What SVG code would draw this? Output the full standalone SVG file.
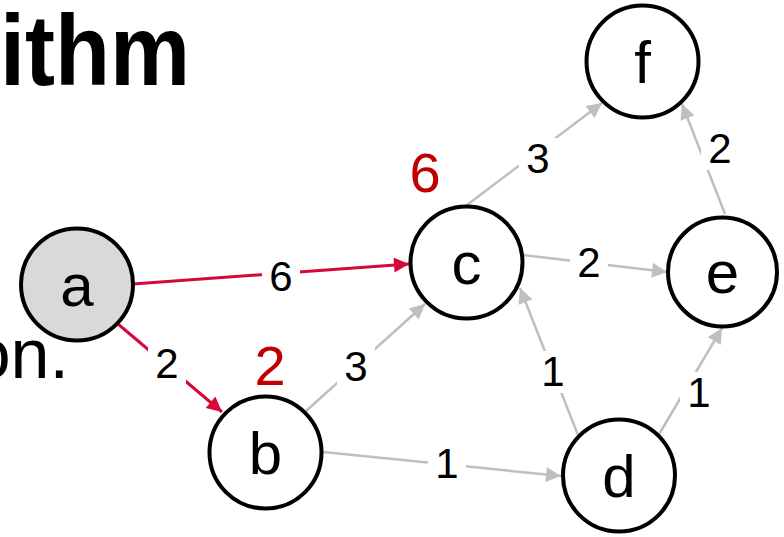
<svg xmlns="http://www.w3.org/2000/svg" width="784" height="537" viewBox="0 0 784 537">
<defs>
<marker id="ag" viewBox="0 0 10 10" refX="10" refY="5" markerWidth="7" markerHeight="6" markerUnits="strokeWidth" orient="auto">
<path d="M0,0 L10,5 L0,10 z" fill="#bfbfbf"/>
</marker>
<marker id="ar" viewBox="0 0 10 10" refX="10" refY="5" markerWidth="6" markerHeight="5" markerUnits="strokeWidth" orient="auto">
<path d="M0,0 L10,5 L0,10 z" fill="#d6083b"/>
</marker>
<style>
.node circle{fill:#fff;stroke:#000;stroke-width:4}
.node text{font-family:"Liberation Sans",Arial,sans-serif;font-size:60px;text-anchor:middle;fill:#000}
.g{stroke:#bfbfbf;stroke-width:2.5;fill:none;marker-end:url(#ag)}
.r{stroke:#d6083b;stroke-width:3;fill:none;marker-end:url(#ar)}
.lbl{font-family:"Liberation Sans",Arial,sans-serif;font-size:42px;text-anchor:middle;fill:#000}
.bg{fill:#fff}
.dist{font-family:"Liberation Sans",Arial,sans-serif;font-size:56px;text-anchor:middle;fill:#c00000}
</style>
</defs>
<rect width="784" height="537" fill="#fff"/>
<text x="0" y="85" font-family="Liberation Sans,Arial,sans-serif" font-weight="bold" font-size="100" textLength="190" lengthAdjust="spacingAndGlyphs">ithm</text>
<text x="69" y="378" font-family="Liberation Sans,Arial,sans-serif" font-size="70" text-anchor="end">on.</text>
<g id="connectors">
<line class="r" x1="133" y1="284" x2="409" y2="264"/>
<line class="r" x1="118" y1="324" x2="222" y2="412"/>
<line class="g" x1="306" y1="411" x2="425" y2="304"/>
<line class="g" x1="323" y1="452" x2="561" y2="476"/>
<line class="g" x1="523" y1="255" x2="667" y2="272"/>
<line class="g" x1="467" y1="205" x2="602" y2="103"/>
<line class="g" x1="725" y1="214" x2="682" y2="104"/>
<line class="g" x1="578" y1="435" x2="520" y2="288"/>
<line class="g" x1="658" y1="436" x2="722" y2="328"/>
<rect class="bg" x="262" y="256" width="38" height="42"/>
<text class="lbl" x="281" y="291">6</text>
<rect class="bg" x="148" y="342" width="38" height="42"/>
<text class="lbl" x="167" y="378">2</text>
<rect class="bg" x="337" y="346" width="38" height="42"/>
<text class="lbl" x="356" y="381">3</text>
<rect class="bg" x="428" y="443" width="38" height="42"/>
<text class="lbl" x="447" y="478">1</text>
<rect class="bg" x="570" y="242" width="38" height="42"/>
<text class="lbl" x="589" y="277">2</text>
<rect class="bg" x="519" y="138" width="38" height="42"/>
<text class="lbl" x="538" y="173">3</text>
<rect class="bg" x="701" y="128" width="38" height="42"/>
<text class="lbl" x="720" y="163">2</text>
<rect class="bg" x="534" y="351" width="38" height="42"/>
<text class="lbl" x="553" y="386">1</text>
<rect class="bg" x="680" y="372" width="38" height="42"/>
<text class="lbl" x="699" y="407">1</text>
</g>
<g id="node-a" class="node"><circle cx="77" cy="284.5" r="56" style="fill:#d9d9d9"/><text x="77" y="306">a</text></g>
<g id="node-b" class="node"><circle cx="265.5" cy="452.5" r="56"/><text x="265.5" y="474">b</text></g>
<g id="node-c" class="node"><circle cx="466.5" cy="262.5" r="56"/><text x="466.5" y="284">c</text></g>
<g id="node-d" class="node"><circle cx="619" cy="475.5" r="56"/><text x="619" y="497">d</text></g>
<g id="node-e" class="node"><circle cx="722.5" cy="272" r="54.5"/><text x="722.5" y="293">e</text></g>
<g id="node-f" class="node"><circle cx="642.5" cy="61.5" r="56"/><text x="642.5" y="83">f</text></g>
<text class="dist" x="425" y="192">6</text>
<text class="dist" x="270" y="385">2</text>
</svg>
